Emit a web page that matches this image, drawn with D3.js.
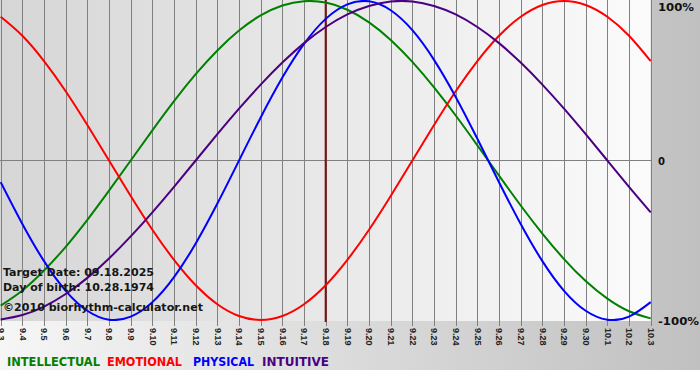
<!DOCTYPE html>
<html>
<head>
<meta charset="utf-8">
<script src="https://cdn.jsdelivr.net/npm/d3@7"></script>
<style>
  html, body { margin: 0; padding: 0; background: #ffffff; }
  svg { display: block; }
</style>
</head>
<body>
<svg id="chart" width="700" height="380"></svg>
<script>
// ---- data (-1 .. 1 = -100% .. 100%) ----
const days = ["9.3","9.4","9.5","9.6","9.7","9.8","9.9","9.10","9.11","9.12","9.13","9.14","9.15","9.16","9.17","9.18","9.19","9.20","9.21","9.22","9.23","9.24","9.25","9.26","9.27","9.28","9.29","9.30","10.1","10.2","10.3"];
const intellectual = [-0.910,-0.815,-0.690,-0.541,-0.372,-0.189,0.000,0.189,0.372,0.541,0.690,0.815,0.910,0.972,0.999,0.990,0.945,0.866,0.756,0.618,0.458,0.282,0.095,-0.095,-0.282,-0.458,-0.618,-0.756,-0.866,-0.945,-0.990];
const emotional = [0.901,0.782,0.623,0.434,0.222,0.000,-0.222,-0.434,-0.623,-0.782,-0.901,-0.975,-1.000,-0.975,-0.901,-0.782,-0.623,-0.434,-0.222,0.000,0.222,0.434,0.623,0.782,0.901,0.975,1.000,0.975,0.901,0.782,0.623];
const physical = [-0.136,-0.398,-0.631,-0.817,-0.942,-0.998,-0.979,-0.888,-0.731,-0.520,-0.270,0.000,0.270,0.520,0.731,0.888,0.979,0.998,0.942,0.817,0.631,0.398,0.136,-0.136,-0.398,-0.631,-0.817,-0.942,-0.998,-0.979,-0.888];
const intuitive = [-0.997,-0.969,-0.916,-0.837,-0.736,-0.614,-0.476,-0.325,-0.165,0.000,0.165,0.325,0.476,0.614,0.736,0.837,0.916,0.969,0.997,0.997,0.969,0.916,0.837,0.736,0.614,0.476,0.325,0.165,0.000,-0.165,-0.325];
const seriesNames = ["INTELLECTUAL","EMOTIONAL","PHYSICAL","INTUITIVE"];
const yTickValues = [1, 0, -1];
const yTickLabels = ["100%", "0", "-100%"];
const targetDay = "9.18";
const infoLines = ["Target Date: 09.18.2025", "Day of birth: 10.28.1974", "\u00a92010 biorhythm-calculator.net"];

// ---- styles ----
const seriesColors = ["#008000", "#ff0000", "#0000ff", "#4b0082"];
const seriesData = [intellectual, emotional, physical, intuitive];

const svg = d3.select("#chart");
const plotLeft = 0.7, plotRight = 650.7, plotTop = 0, plotBottom = 321;

const x = d3.scalePoint().domain(days).range([plotLeft, plotRight]);
const y = d3.scaleLinear().domain([-1, 1]).range([320, 1]);

const defs = svg.append("defs");
const gOuter = defs.append("linearGradient").attr("id", "outerGrad").attr("x1", "0").attr("x2", "1").attr("y1", "0").attr("y2", "0");
gOuter.append("stop").attr("offset", "0").attr("stop-color", "#f6f6f6");
gOuter.append("stop").attr("offset", "1").attr("stop-color", "#c0c0c0");
const gPlot = defs.append("linearGradient").attr("id", "plotGrad").attr("x1", "0").attr("x2", "1").attr("y1", "0").attr("y2", "0");
gPlot.append("stop").attr("offset", "0").attr("stop-color", "#d6d6d6");
gPlot.append("stop").attr("offset", "1").attr("stop-color", "#fbfbfb");
defs.append("clipPath").attr("id", "plotClip")
  .append("rect").attr("x", 0).attr("y", plotTop).attr("width", plotRight + 1).attr("height", plotBottom - plotTop);

// frame
svg.append("rect").attr("x", 0).attr("y", 0).attr("width", 700).attr("height", 370).attr("fill", "url(#outerGrad)");
svg.append("rect").attr("x", 0).attr("y", plotTop).attr("width", plotRight).attr("height", plotBottom - plotTop).attr("fill", "url(#plotGrad)");

// vertical grid + ticks + labels via axis
const xAxis = d3.axisBottom(x).tickSize(326).tickSizeOuter(0).tickPadding(2);
const ax = svg.append("g").attr("transform", "translate(0,0)").call(xAxis);
ax.select(".domain").remove();
ax.selectAll(".tick line").attr("stroke", "#808080").attr("shape-rendering", "crispEdges");
ax.selectAll(".tick text")
  .attr("transform", "rotate(90)")
  .attr("x", 328)
  .attr("y", 0)
  .attr("dy", "0.36em")
  .style("text-anchor", "start")
  .style("font-family", "'Liberation Sans', Arial, sans-serif")
  .style("font-size", "9px")
  .style("font-weight", "bold")
  .attr("fill", "#222");

// zero line
svg.append("line").attr("x1", 0).attr("x2", plotRight).attr("y1", y(0)).attr("y2", y(0))
  .attr("stroke", "#808080").attr("shape-rendering", "crispEdges");

// target date line
svg.append("line").attr("x1", x(targetDay)).attr("x2", x(targetDay)).attr("y1", 0).attr("y2", 322)
  .attr("stroke", "#7a1010").attr("stroke-width", 2);

// curves
const line = d3.line().x((d, i) => x(days[i])).y(d => y(d)).curve(d3.curveNatural);
const curves = svg.append("g").attr("clip-path", "url(#plotClip)");
seriesData.forEach((s, i) => {
  curves.append("path").datum(s).attr("d", line)
    .attr("fill", "none").attr("stroke", seriesColors[i]).attr("stroke-width", 2);
});

// right labels
const yOffsets = [6, 1, 1];
svg.append("g").selectAll("text").data(yTickValues).join("text")
  .attr("x", 658)
  .attr("y", (v, i) => y(v) + yOffsets[i])
  .attr("dy", "0.36em")
  .text((v, i) => yTickLabels[i])
  .attr("textLength", (v, i) => [36, 7, 41][i])
  .attr("lengthAdjust", "spacingAndGlyphs")
  .style("font-family", "'DejaVu Sans', Verdana, sans-serif")
  .style("font-weight", "bold")
  .style("font-size", "11px")
  .attr("fill", "#111");

// info text
const infoY = [275.5, 291, 310.5];
const infoW = [151, 151, 200];
svg.append("g").selectAll("text").data(infoLines).join("text")
  .attr("x", 3)
  .attr("y", (d, i) => infoY[i])
  .attr("textLength", (d, i) => infoW[i])
  .attr("lengthAdjust", "spacingAndGlyphs")
  .text(d => d)
  .style("font-family", "'DejaVu Sans', Verdana, sans-serif")
  .style("font-weight", "bold")
  .style("font-size", "11px")
  .attr("fill", "#161616");

// legend
const legX = [7, 107, 193, 262];
const legW = [93, 75, 61, 67];
svg.append("g").selectAll("text").data(seriesNames).join("text")
  .attr("x", (d, i) => legX[i])
  .attr("y", 366)
  .attr("textLength", (d, i) => legW[i])
  .attr("lengthAdjust", "spacingAndGlyphs")
  .text(d => d)
  .style("font-family", "'DejaVu Sans', Verdana, sans-serif")
  .style("font-weight", "bold")
  .style("font-size", "11.5px")
  .attr("fill", (d, i) => seriesColors[i]);
</script>
</body>
</html>
